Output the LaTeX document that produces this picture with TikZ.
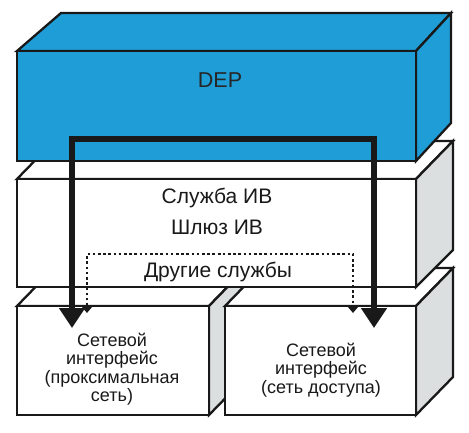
\documentclass[tikz,border=0pt]{standalone}
\usepackage{fontspec}
\setmainfont{Liberation Sans}
\usetikzlibrary{arrows.meta, positioning}
\definecolor{depblue}{RGB}{30,157,215}
\definecolor{sidegray}{RGB}{220,223,224}

\begin{document}
\begin{tikzpicture}[x=1pt, y=-1pt,
	face/.style={draw=black!90, line width=2.3pt, line join=miter, fill=white},
	sideface/.style={face, fill=sidegray},
	depface/.style={face, fill=depblue},
	upper/.style={font=\fontsize{21}{24}\selectfont, text=black!90},
	lower/.style={font=\fontsize{18}{18.5}\selectfont, align=center, text=black!90},
	bigpath/.style={draw=black!90, line width=6pt, {Triangle[length=20pt,width=25pt]}-{Triangle[length=20pt,width=25pt]}},
	dotpath/.style={draw=black!90, line width=2.6pt, dash pattern=on 2.6pt off 2.6pt, {Triangle[length=8pt,width=13pt]}-{Triangle[length=8pt,width=13pt]}}]
	\useasboundingbox (0,0) rectangle (469,433);
	% left network interface
	\draw[face] (17,306) -- (54,268) -- (246,268) -- (209,306) -- cycle;
	\draw[sideface] (209,306) -- (246,268) -- (246,377) -- (209,415) -- cycle;
	\draw[face] (17,306) rectangle (209,415);
	% right network interface
	\draw[face] (225,306) -- (262,268) -- (453,268) -- (416,306) -- cycle;
	\draw[sideface] (416,306) -- (453,268) -- (453,377) -- (416,415) -- cycle;
	\draw[face] (225,306) rectangle (416,415);
	% services
	\draw[face] (17,179) -- (54,141) -- (453,141) -- (416,179) -- cycle;
	\draw[sideface] (416,179) -- (453,141) -- (453,250) -- (416,287) -- cycle;
	\draw[face] (17,179) rectangle (416,287);
	% DEP
	\draw[depface] (17,51) -- (61,13) -- (451,13) -- (416,51) -- cycle;
	\draw[depface] (416,51) -- (451,13) -- (451,123) -- (416,161) -- cycle;
	\draw[depface] (17,51) rectangle (416,161);

	\node[font=\fontsize{21.5}{24}\selectfont, text=black!85] (dep) at (220,80) {DEP};
	\node[upper] (svc) at (217,198) {Служба ИВ};
	\node[upper] (gw) at (217,227) {Шлюз ИВ};
	\node[upper] (other) at (218,272) {Другие службы};
	\node[lower] (nicl) at (112,369) {Сетевой\\интерфейс\\(проксимальная\\сеть)};
	\node[lower] (nicr) at (321,370) {Сетевой\\интерфейс\\(сеть доступа)};

	\coordinate (ltip) at (72,328);
	\coordinate (rtip) at (374,328);
	\coordinate (bend) at (220,139);
	\coordinate (dl) at (87,313);
	\coordinate (dr) at (353,313);
	\coordinate (dbend) at (220,254);
	\draw[dotpath] (dl) |- (dbend) -| (dr);
	\draw[bigpath] (ltip) |- (bend) -| (rtip);
\end{tikzpicture}
\end{document}
